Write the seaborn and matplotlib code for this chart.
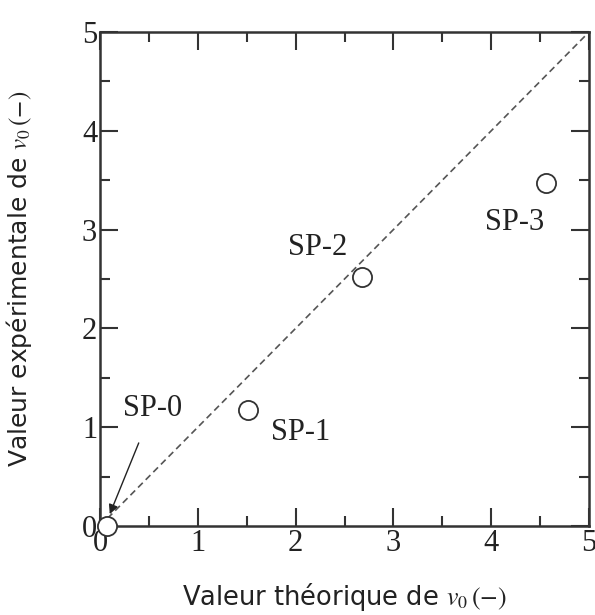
import pandas as pd
import seaborn as sns
import matplotlib.pyplot as plt
from matplotlib.ticker import MultipleLocator

# data
labels = ["SP-0", "SP-1", "SP-2", "SP-3"]
v_theo = [0.07, 1.51, 2.68, 4.56]
v_exp = [0.0, 1.17, 2.52, 3.47]
diag = [0, 5]

df = pd.DataFrame({"theo": v_theo, "exp": v_exp, "label": labels})

sns.set_style("ticks")
plt.rcParams["mathtext.fontset"] = "stix"
serif = ["Liberation Serif", "DejaVu Serif"]

fig = plt.figure(figsize=(5.95, 6.15), dpi=100)
ax = fig.add_axes([0.168, 0.1447, 0.822, 0.8033])

sns.lineplot(x=diag, y=diag, ax=ax, color="#555555", lw=1.2,
             linestyle=(0, (4, 2.5)))
sns.scatterplot(data=df, x="theo", y="exp", ax=ax, s=190, marker="o",
                facecolor="white", edgecolor="#333333", linewidth=1.3,
                clip_on=False, zorder=5)

ax.set_xlim(0, 5)
ax.set_ylim(0, 5)
ax.xaxis.set_major_locator(MultipleLocator(1))
ax.yaxis.set_major_locator(MultipleLocator(1))
ax.xaxis.set_minor_locator(MultipleLocator(0.5))
ax.yaxis.set_minor_locator(MultipleLocator(0.5))
ax.tick_params(which="both", direction="in", top=True, right=True,
               color="#333333", width=1.5)
ax.tick_params(which="major", length=13, pad=2)
ax.tick_params(which="minor", length=7)
for t in ax.get_xticklabels() + ax.get_yticklabels():
    t.set_family(serif)
    t.set_fontsize(22)
    t.set_color("#222222")
for sp in ax.spines.values():
    sp.set_linewidth(1.8)
    sp.set_color("#333333")

ax.set_xlabel(r"Valeur théorique de $v_0\,(-)$", fontsize=18.5, color="#222222")
ax.set_ylabel(r"Valeur expérimentale de $v_0\,(-)$", fontsize=18, color="#222222")
ax.xaxis.set_label_coords(0.5, -0.112)
ax.yaxis.set_label_coords(-0.135, 0.5)

txt = dict(family=serif, fontsize=22, color="#222222", ha="center", va="center")
ax.annotate("SP-0", xy=(0.1, 0.12), xytext=(0.54, 1.19),
            arrowprops=dict(arrowstyle="-|>", color="#222222", lw=1.0,
                            shrinkA=13, shrinkB=0, mutation_scale=14),
            **txt)
ax.text(2.05, 0.95, "SP-1", **txt)
ax.text(2.23, 2.82, "SP-2", **txt)
ax.text(4.24, 3.07, "SP-3", **txt)

fig.savefig("out.png", dpi=100)
